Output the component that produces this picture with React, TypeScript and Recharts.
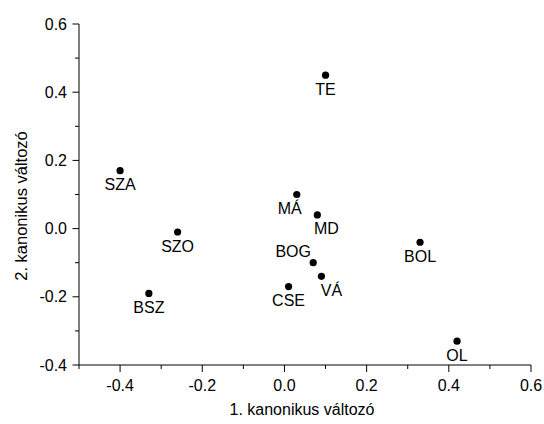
import React from 'react';
import { ScatterChart, Scatter, XAxis, YAxis } from 'recharts';

const names = ['TE', 'SZA', 'MÁ', 'MD', 'SZO', 'BOG', 'VÁ', 'CSE', 'BSZ', 'BOL', 'OL'];
const xValues = [0.10, -0.40, 0.03, 0.08, -0.26, 0.07, 0.09, 0.01, -0.33, 0.33, 0.42];
const yValues = [0.45, 0.17, 0.10, 0.04, -0.01, -0.10, -0.14, -0.17, -0.19, -0.04, -0.33];
const xTicks = [-0.5, -0.4, -0.3, -0.2, -0.1, 0, 0.1, 0.2, 0.3, 0.4, 0.5, 0.6];
const yTicks = [-0.4, -0.3, -0.2, -0.1, 0, 0.1, 0.2, 0.3, 0.4, 0.5, 0.6];
const xTitle = '1. kanonikus változó';
const yTitle = '2. kanonikus változó';

const data = names.map((n, i) => ({ name: n, x: xValues[i], y: yValues[i] }));

// label placement style (offsets from the point), not data
const labelOffset: Record<string, [number, number]> = {
  'MÁ': [-7, 19.5],
  MD: [9, 19.5],
  BOG: [-20, -5.5],
  'VÁ': [10, 19.5],
};

const FONT = '"Liberation Sans", Arial, sans-serif';
const FS = 16;

const isMajor = (v: number) => Math.abs(Math.round(v * 10)) % 2 === 0;

const XTick = (props: any) => {
  const { x, y, payload } = props;
  const v = payload.value;
  const major = isMajor(v) && Math.round(v * 10) !== -5;
  return (
    <g>
      <line x1={x} x2={x} y1={y} y2={y + (major ? 7 : 4)} stroke="#000" strokeWidth={1} />
      {major && (
        <text x={x} y={y + 26} textAnchor="middle" fontSize={FS} fontFamily={FONT} fill="#000">
          {v.toFixed(1)}
        </text>
      )}
    </g>
  );
};

const YTick = (props: any) => {
  const { x, y, payload } = props;
  const v = payload.value;
  const major = isMajor(v);
  return (
    <g>
      <line x1={x - (major ? 6.5 : 4)} x2={x} y1={y} y2={y} stroke="#000" strokeWidth={1} />
      {major && (
        <text x={x - 12} y={y + 5.5} textAnchor="end" fontSize={FS} fontFamily={FONT} fill="#000">
          {v.toFixed(1)}
        </text>
      )}
    </g>
  );
};

const PointShape = (props: any) => {
  const { cx, cy, payload } = props;
  const off = labelOffset[payload.name] || [0, 19.5];
  return (
    <g>
      <circle cx={cx} cy={cy} r={3.6} fill="#000" />
      <text x={cx + off[0]} y={cy + off[1]} textAnchor="middle" fontSize={FS} fontFamily={FONT} fill="#000">
        {payload.name}
      </text>
    </g>
  );
};

const XTitle = () => (
  <text x={302} y={415} textAnchor="middle" fontSize={FS} fontFamily={FONT} fill="#000">
    {xTitle}
  </text>
);

const YTitle = () => (
  <text
    x={0}
    y={0}
    transform="translate(27, 206) rotate(-90)"
    textAnchor="middle"
    fontSize={16.5}
    fontFamily={FONT}
    fill="#000"
  >
    {yTitle}
  </text>
);

export default function App() {
  return (
    <div style={{ position: 'absolute', left: 0, top: 0, width: 544, height: 424, background: '#fff' }}>
      <ScatterChart width={544} height={424} margin={{ top: 24, right: 13, bottom: 19, left: 0 }}>
        <XAxis
          type="number"
          dataKey="x"
          domain={[-0.5, 0.6]}
          ticks={xTicks}
          interval={0}
          tickSize={0}
          tickMargin={0}
          tickLine={false}
          tick={<XTick />}
          height={40}
          axisLine={{ stroke: '#000', strokeWidth: 1 }}
          allowDataOverflow
          label={<XTitle />}
        />
        <YAxis
          type="number"
          dataKey="y"
          domain={[-0.4, 0.6]}
          ticks={yTicks}
          interval={0}
          tickSize={0}
          tickMargin={0}
          tickLine={false}
          tick={<YTick />}
          width={79}
          axisLine={{ stroke: '#000', strokeWidth: 1 }}
          allowDataOverflow
          label={<YTitle />}
        />
        <Scatter data={data} shape={<PointShape />} isAnimationActive={false} />
      </ScatterChart>
    </div>
  );
}
